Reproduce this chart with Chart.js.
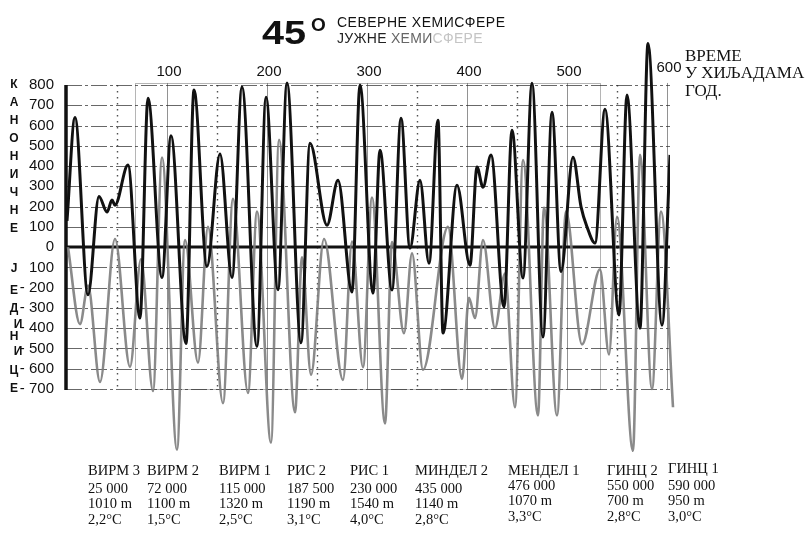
<!DOCTYPE html>
<html>
<head>
<meta charset="utf-8">
<script src="https://cdn.jsdelivr.net/npm/chart.js@4.4.0/dist/chart.umd.min.js"></script>
<style>
html,body{margin:0;padding:0;background:#fff;}
#wrap{position:relative;width:808px;height:544px;overflow:hidden;background:#fff;font-family:"Liberation Sans",Arial,sans-serif;}
#c{position:absolute;left:0;top:0;}
.t{position:absolute;white-space:nowrap;color:#111;line-height:1;}
.lt{position:absolute;font:bold 12px "Liberation Sans",Arial,sans-serif;line-height:1;color:#111;transform:translateX(-50%);}
.sf{font-family:"Liberation Serif","Times New Roman",serif;}
.tb{position:absolute;font-family:"Liberation Serif","Times New Roman",serif;font-size:14.5px;line-height:1;color:#111;white-space:nowrap;}
</style>
</head>
<body>
<div id="wrap">
<canvas id="c" width="808" height="544"></canvas>
<div class="t" style="left:262px;top:16px;font-weight:bold;font-size:33px;transform:scaleX(1.2);transform-origin:left top;">45</div>
<div class="t" style="left:311px;top:15px;font-weight:bold;font-size:19px;">O</div>
<div class="t" style="left:337px;top:15px;font-size:14px;letter-spacing:0.5px;">СЕВЕРНЕ ХЕМИСФЕРЕ</div>
<div class="t" style="left:337px;top:31px;font-size:14px;letter-spacing:0.3px;"><span style="color:#222">ЈУЖНЕ </span><span style="color:#666">ХЕМИ</span><span style="color:#c4c4c4">СФЕРЕ</span></div>
<div class="t sf" style="left:685px;top:47px;font-size:17px;">ВРЕМЕ</div>
<div class="t sf" style="left:685px;top:64px;font-size:17px;">У ХИЉАДАМА</div>
<div class="t sf" style="left:685px;top:82px;font-size:17px;">ГОД.</div>
<div id="side"></div>
<div id="table"></div>
</div>
<script>
// ---- data ----
const northT = [0,8,21,32,40,45,48,61,73,81,95,104,119,127,140,153,165,175,190,199,211,220,234,243,260,271,285,293,306,313,325,334,343,353,362,371,376,390,403,410,416,424,437,445,456,465,476,485,494,506,514,520,528,538,552,560,573,581,595,603];
const northV = [130,640,-235,250,173,232,207,405,-350,735,-150,550,-475,775,-95,460,-150,790,-490,740,-210,810,-472,512,108,330,-222,800,-227,478,-212,636,-5,330,-80,626,-424,305,-90,395,295,455,-295,577,-152,808,-444,666,-120,444,200,100,20,680,-335,750,-400,1005,-385,455];
const southT = [1,13,21,33,48,63,74,86,95,110,118,131,141,156,166,181,190,204,212,228,235,244,257,276,285,296,305,318,325,337,345,356,381,395,402,408,416,428,438,448,456,471,477,490,499,515,533,542,550,566,573,585,594,606];
const southV = [0,-380,-190,-665,40,-590,-60,-710,442,-1000,35,-570,100,-770,238,-720,175,-965,530,-815,-50,-630,40,-655,28,-592,245,-870,25,-425,-30,-605,100,-650,-250,-350,35,-400,-130,-790,430,-830,195,-830,175,-480,-110,-530,150,-1005,455,-700,175,-790];
const yTicks = [800,700,600,500,400,300,200,100,0,-100,-200,-300,-400,-500,-600,-700];
const xTicks = [100,200,300,400,500,600];
const dottedT = [50,150,250,350,450,550];
const sideTop = ['К','А','Н','О','Н','И','Ч','Н','Е'];
const sideBottom = ['Ј','Е','Д','И','Н','И','Ц','Е'];
const stages = ['ВИРМ 3','ВИРМ 2','ВИРМ 1','РИС 2','РИС 1','МИНДЕЛ 2','МЕНДЕЛ 1','ГИНЦ 2','ГИНЦ 1'];
const stageYears = ['25 000','72 000','115 000','187 500','230 000','435 000','476 000','550 000','590 000'];
const stageDepth = ['1010 m','1100 m','1320 m','1190 m','1540 m','1140 m','1070 m','700 m','950 m'];
const stageTemp = ['2,2°C','1,5°C','2,5°C','3,1°C','4,0°C','2,8°C','3,3°C','2,8°C','3,0°C'];

// ---- side letters & table (text) ----
const side = document.getElementById('side');
const topY = [78,96,114,132,150,168,186,204,222];
sideTop.forEach((ch,i)=>{const d=document.createElement('div');d.className='lt';d.textContent=ch;d.style.left='14px';d.style.top=topY[i]+'px';side.appendChild(d);});
const botY = [262,284,302,318,330,345,364,382];
const botX = [14,14,14,18,14,18,14,14];
sideBottom.forEach((ch,i)=>{const d=document.createElement('div');d.className='lt';d.textContent=ch;d.style.left=botX[i]+'px';d.style.top=botY[i]+'px';side.appendChild(d);});

const table = document.getElementById('table');
const colX = [88,147,219,287,350,415,508,607,668];
const rowY = [463,481,496,512];
stages.forEach((s,i)=>{
  const shift = i>=6 ? -3 : 0;
  const rows=[s,stageYears[i],stageDepth[i],stageTemp[i]];
  rows.forEach((txt,r)=>{
    const d=document.createElement('div');d.className='tb';d.textContent=txt;
    d.style.left=colX[i]+'px';d.style.top=(rowY[r]+(r>0?shift:(i===8?-2:0)))+'px';
    table.appendChild(d);
  });
});

// ---- chart ----
const north = northT.map((t,i)=>({x:t,y:northV[i]}));
const south = southT.map((t,i)=>({x:t,y:southV[i]}));
const X_MIN=-1, X_MAX=603;

const paper = {
  id:'paper',
  beforeDatasetsDraw(chart){
    const {ctx, scales:{x,y}} = chart;
    const xl = x.getPixelForValue(X_MIN), xr = x.getPixelForValue(X_MAX);
    ctx.save();
    // box
    ctx.strokeStyle='rgba(150,150,150,0.7)';ctx.lineWidth=1;ctx.setLineDash([]);
    const bx1=x.getPixelForValue(68), bx2=x.getPixelForValue(533);
    const by1=y.getPixelForValue(810), by2=y.getPixelForValue(-700);
    ctx.strokeRect(Math.round(bx1)+0.5,Math.round(by1)+0.5,Math.round(bx2-bx1),Math.round(by2-by1));
    // vertical solid lines
    ctx.strokeStyle='rgba(110,110,110,0.75)';
    xTicks.forEach(t=>{const px=Math.round(x.getPixelForValue(t))+0.5;ctx.beginPath();ctx.moveTo(px,y.getPixelForValue(810));ctx.lineTo(px,y.getPixelForValue(-700));ctx.stroke();});
    // horizontal dash-dot grid
    ctx.strokeStyle='rgba(40,40,40,0.7)';ctx.lineWidth=1.1;ctx.setLineDash([16,3,3,3]);
    yTicks.forEach(v=>{if(v===0)return;const py=Math.round(y.getPixelForValue(v))+0.5;ctx.beginPath();ctx.moveTo(xl,py);ctx.lineTo(xr,py);ctx.stroke();});
    // dotted verticals
    ctx.strokeStyle='rgba(50,50,50,0.85)';ctx.lineWidth=1.4;ctx.setLineDash([1.5,4.5]);
    dottedT.forEach(t=>{const px=Math.round(x.getPixelForValue(t))+0.5;ctx.beginPath();ctx.moveTo(px,y.getPixelForValue(800));ctx.lineTo(px,y.getPixelForValue(-700));ctx.stroke();});
    // zero line
    ctx.setLineDash([]);ctx.strokeStyle='#111';ctx.lineWidth=3;
    ctx.beginPath();ctx.moveTo(xl,y.getPixelForValue(0));ctx.lineTo(xr,y.getPixelForValue(0));ctx.stroke();
    // axis line
    ctx.lineWidth=3.5;
    ctx.beginPath();ctx.moveTo(xl,y.getPixelForValue(800));ctx.lineTo(xl,y.getPixelForValue(-705));ctx.stroke();
    ctx.restore();
  },
  afterDraw(chart){
    const {ctx, scales:{x,y}} = chart;
    ctx.save();
    ctx.font='15px "Liberation Sans", Arial, sans-serif';ctx.fillStyle='#111';ctx.textAlign='center';ctx.textBaseline='middle';
    xTicks.forEach(t=>{const off = t===600?-17:-13;ctx.fillText(String(t),x.getPixelForValue(t)+2,y.getPixelForValue(800)+off);});
    ctx.restore();
  }
};

new Chart(document.getElementById('c'),{
  type:'line',
  data:{datasets:[
    {label:'СЕВЕРНЕ ХЕМИСФЕРЕ',data:north,borderColor:'#111',borderWidth:3,pointRadius:0,cubicInterpolationMode:'monotone',fill:false},
    {label:'ЈУЖНЕ ХЕМИСФЕРЕ',data:south,borderColor:'rgba(125,125,125,0.9)',borderWidth:2.6,pointRadius:0,cubicInterpolationMode:'monotone',fill:false,clip:false}
  ]},
  options:{
    responsive:false,animation:false,devicePixelRatio:1,
    layout:{padding:{left:6,right:138,top:34,bottom:84}},
    plugins:{legend:{display:false},tooltip:{enabled:false}},
    scales:{
      x:{type:'linear',min:X_MIN,max:X_MAX,display:false},
      y:{type:'linear',min:-1050.4,max:1051.6,
         afterBuildTicks(s){s.ticks=yTicks.map(v=>({value:v}));},
         afterFit(s){s.width=60;},
         grid:{display:false},border:{display:false},
         ticks:{padding:4,color:'#111',font:{family:'"Liberation Sans", Arial, sans-serif',size:15},
           callback(v){if(v>=0)return String(v);if(v===-100)return '100';return '- '+(-v);}}
      }
    }
  },
  plugins:[paper]
});
</script>
</body>
</html>
